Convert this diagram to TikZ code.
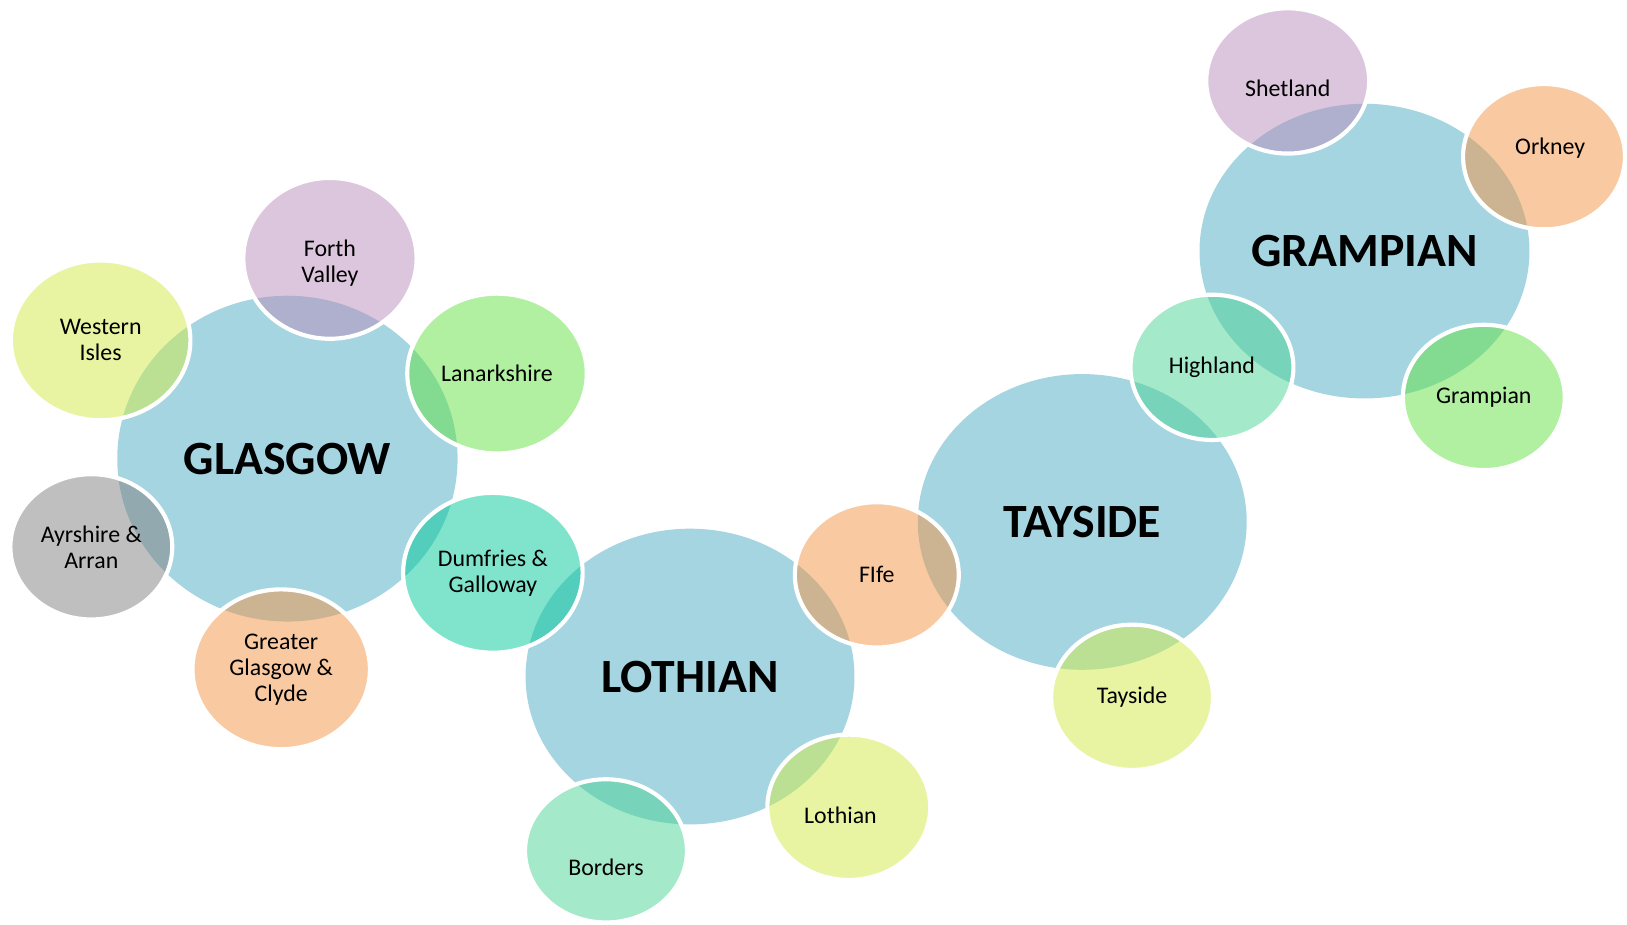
\documentclass[tikz,border=0pt]{standalone}
\usepackage{fontspec}
\setmainfont{Carlito}
\usetikzlibrary{shapes.geometric}

\definecolor{hubblue}{HTML}{A6D5E2}
\definecolor{lilac}{HTML}{B98DBB}
\definecolor{lime}{HTML}{D1E945}
\definecolor{leaf}{HTML}{61E141}
\definecolor{stone}{HTML}{7F7F7F}
\definecolor{apricot}{HTML}{F39545}
\definecolor{teal}{HTML}{01C999}
\definecolor{mint}{HTML}{49D393}

\begin{document}
\begin{tikzpicture}[x=1pt, y=-1pt,
  hub/.style={ellipse, fill=hubblue, inner sep=0pt,
    font=\bfseries\fontsize{46}{50}\selectfont},
  bub/.style={ellipse, inner sep=0pt, fill=#1, fill opacity=0.5,
    text opacity=1, draw=white, draw opacity=1, line width=4pt,
    align=center, font=\fontsize{23}{25}\selectfont},
  dims/.style 2 args={minimum width=#1pt, minimum height=#2pt},
  tag/.style={font=\fontsize{23}{25}\selectfont}]

  \useasboundingbox (0,0) rectangle (1568,891);

  % Health board hubs
  \node[hub, dims={328}{314}] (glasgow)  at (277,442)  {GLASGOW};
  \node[hub, dims={317}{285}] (lothian)  at (665,652)  {LOTHIAN};
  \node[hub, dims={317}{285}] (tayside)  at (1043,503) {TAYSIDE};
  \node[hub, dims={318}{284}] (grampian) at (1315,242) {GRAMPIAN};

  % Regions round Glasgow
  \node[bub=lilac,   dims={167}{155}] (forth)    at (318,249) {};
  \node[tag, align=center] (forthT) at ([yshift=-5pt]forth.center) {Forth\\Valley};
  \node[bub=lime,    dims={173}{154}] (western)  at (97,328)  {Western\\Isles};
  \node[bub=leaf,    dims={173}{154}] (lanark)   at (479,360) {Lanarkshire};
  \node[bub=stone,   dims={156}{140}] (ayrshire) at (88,527)  {Ayrshire \&\\Arran};
  \node[bub=apricot, dims={171}{154}] (ggc)      at (271,645) {Greater\\Glasgow \&\\Clyde};
  \node[bub=teal,    dims={173}{154}] (dumfries) at (475,552) {Dumfries \&\\Galloway};

  % Regions round Lothian
  \node[bub=mint,    dims={156}{138}] (borders)  at (584,820) {};
  \node[tag] (bordersT) at ([yshift=-16pt]borders.center) {Borders};
  \node[bub=lime,    dims={157}{140}] (lothsub)  at (818,778) {};
  \node[tag] (lothsubT) at ([xshift=-8pt,yshift=-8pt]lothsub.center) {Lothian};
  \node[bub=apricot, dims={158}{140}] (fife)     at (845,554) {FIfe};

  % Regions round Tayside and Grampian
  \node[bub=lime,    dims={156}{140}] (taysub)   at (1091,672) {Tayside};
  \node[bub=mint,    dims={157}{140}] (highland) at (1168,354) {Highland};
  \node[bub=leaf,    dims={156}{140}] (grampsub) at (1430,383) {Grampian};
  \node[bub=lilac,   dims={157}{140}] (shetland) at (1241,78)  {};
  \node[tag] (shetlandT) at ([yshift=-7pt]shetland.center) {Shetland};
  \node[bub=apricot, dims={156}{140}] (orkney)   at (1488,151) {};
  \node[tag] (orkneyT) at ([xshift=6pt,yshift=8pt]orkney.center) {Orkney};

\end{tikzpicture}
\end{document}
